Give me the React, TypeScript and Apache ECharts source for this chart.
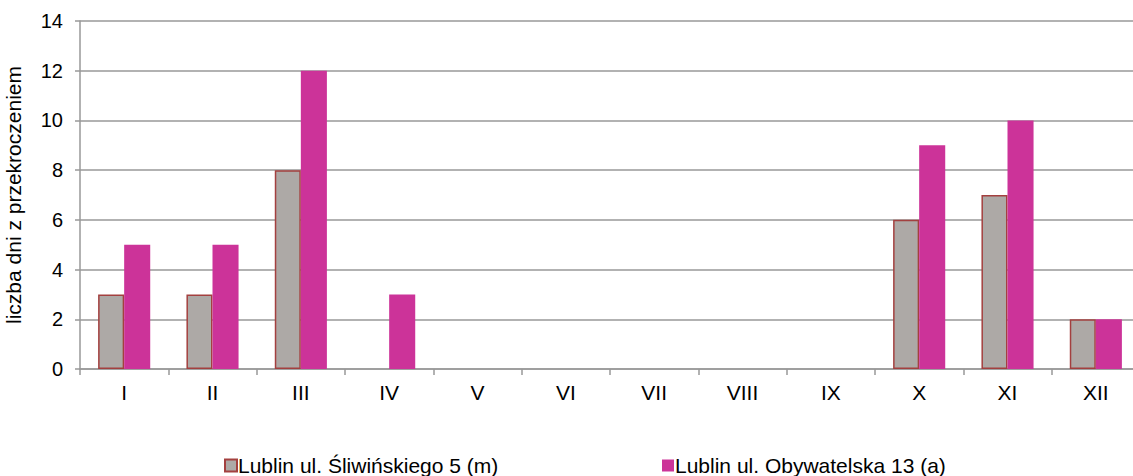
import React, { useEffect, useRef } from "react";
import * as echarts from "echarts";

const categories = ["I", "II", "III", "IV", "V", "VI", "VII", "VIII", "IX", "X", "XI", "XII"];
const seriesM = [3, 3, 8, 0, 0, 0, 0, 0, 0, 6, 7, 2];
const seriesA = [5, 5, 12, 3, 0, 0, 0, 0, 0, 9, 10, 2];
const nameM = "Lublin ul. Śliwińskiego 5 (m)";
const nameA = "Lublin ul. Obywatelska 13 (a)";

export default function App() {
  const ref = useRef<HTMLDivElement>(null);
  useEffect(() => {
    const chart = echarts.init(ref.current!, null, { renderer: "svg" });
    const font = "Liberation Sans, Arial, sans-serif";
    const mData = seriesM.map((v) =>
      v === 0 ? { value: v, itemStyle: { borderWidth: 0, opacity: 0 } } : v
    );
    const aData = seriesA.map((v) => (v === 0 ? { value: v, itemStyle: { opacity: 0 } } : v));
    chart.setOption({
      animation: false,
      textStyle: { fontFamily: font },
      grid: {
        left: 80,
        right: -7,
        top: 21,
        bottom: 107,
        containLabel: false,
        outerBoundsMode: "none",
      },
      legend: [
        {
          data: [nameM],
          left: 219,
          top: 450,
          itemWidth: 12,
          itemHeight: 12,
          icon: "rect",
          textStyle: { fontSize: 21, color: "#000", fontFamily: font, padding: [0, 0, 0, -4] },
        },
        {
          data: [nameA],
          left: 657,
          top: 450,
          itemWidth: 12,
          itemHeight: 12,
          icon: "rect",
          textStyle: { fontSize: 21, color: "#000", fontFamily: font, padding: [0, 0, 0, -4] },
        },
      ],
      xAxis: {
        type: "category",
        data: categories,
        axisLine: { lineStyle: { color: "#999", width: 1.5 } },
        axisTick: { show: true, length: 6, lineStyle: { color: "#999", width: 1.5 } },
        axisLabel: { fontSize: 21, color: "#000", margin: 13, fontFamily: font },
      },
      yAxis: {
        type: "value",
        min: 0,
        max: 14,
        interval: 2,
        name: "liczba dni z przekroczeniem",
        nameLocation: "middle",
        nameGap: 56,
        nameTextStyle: { fontSize: 21, color: "#000", fontFamily: font },
        axisLine: { show: true, lineStyle: { color: "#999", width: 1.5 } },
        axisTick: { show: true, length: 5, lineStyle: { color: "#999", width: 1.5 } },
        axisLabel: { fontSize: 20, color: "#000", margin: 17, fontFamily: font },
        splitLine: { lineStyle: { color: "#999", width: 1.5 } },
      },
      series: [
        {
          name: nameM,
          type: "bar",
          data: mData,
          barGap: "0%",
          barCategoryGap: "41%",
          itemStyle: { color: "#ada9a6", borderColor: "#a3403f", borderWidth: 1.5 },
        },
        {
          name: nameA,
          type: "bar",
          data: aData,
          barGap: "0%",
          barCategoryGap: "41%",
          itemStyle: { color: "#cc3399" },
        },
      ],
    });
    return () => chart.dispose();
  }, []);
  return <div ref={ref} style={{ width: 1133, height: 476, position: "absolute", left: 0, top: 0 }} />;
}
